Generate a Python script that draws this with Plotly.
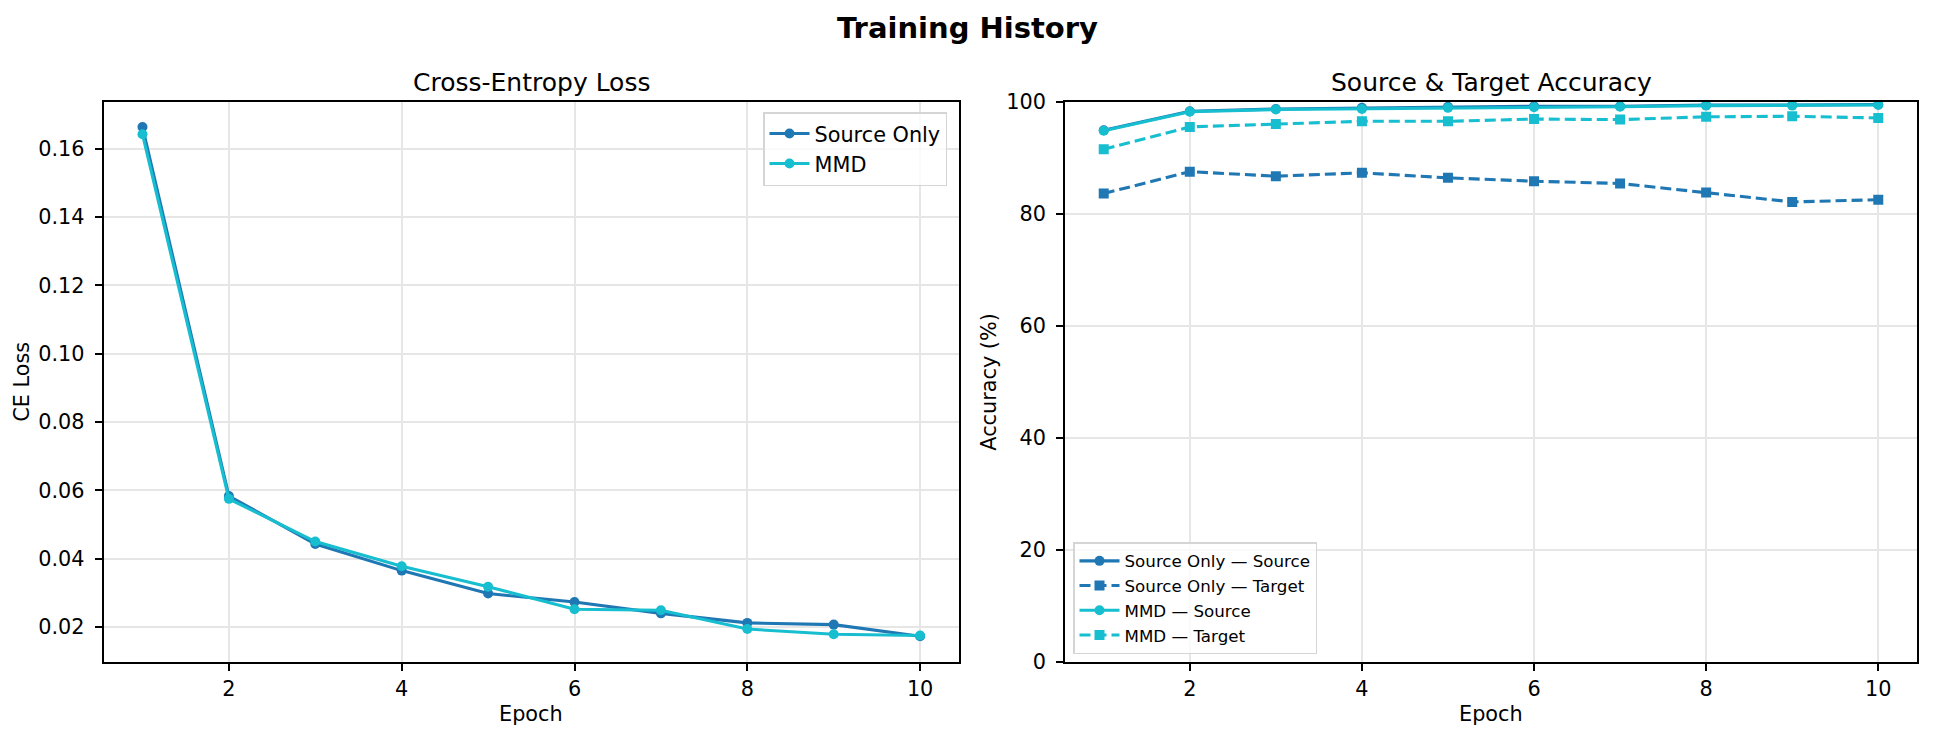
import plotly.graph_objects as go

epochs = [1, 2, 3, 4, 5, 6, 7, 8, 9, 10]

loss_source_only = [0.1663, 0.0583, 0.0443, 0.0365, 0.0298, 0.0273, 0.0240, 0.0212, 0.0207, 0.0173]
loss_mmd = [0.1642, 0.0575, 0.0450, 0.0378, 0.0318, 0.0252, 0.0249, 0.0194, 0.0179, 0.0175]

acc_so_source = [94.9, 98.3, 98.7, 98.9, 99.1, 99.2, 99.2, 99.4, 99.4, 99.5]
acc_so_target = [83.6, 87.5, 86.7, 87.3, 86.4, 85.8, 85.4, 83.8, 82.1, 82.5]
acc_mmd_source = [94.8, 98.2, 98.6, 98.7, 98.9, 99.0, 99.1, 99.3, 99.3, 99.4]
acc_mmd_target = [91.5, 95.5, 96.0, 96.5, 96.5, 96.9, 96.8, 97.3, 97.4, 97.1]

loss_ticks = [0.02, 0.04, 0.06, 0.08, 0.10, 0.12, 0.14, 0.16]
acc_ticks = [0, 20, 40, 60, 80, 100]
epoch_ticks = [2, 4, 6, 8, 10]

C_SO = "#1f77b4"
C_MMD = "#17becf"
FONT = "DejaVu Sans"
W, H = 1934, 740
LW = 3.1
MS = 10
DASH = "11px,5px"

def px_x(v):
    return v / W

def px_y(v):
    return 1 - v / H

fig = go.Figure()

# Left: loss
fig.add_trace(go.Scatter(x=epochs, y=loss_source_only, name="Source Only", mode="lines+markers",
                         line=dict(color=C_SO, width=LW), marker=dict(symbol="circle", size=MS, color=C_SO),
                         xaxis="x", yaxis="y", legend="legend"))
fig.add_trace(go.Scatter(x=epochs, y=loss_mmd, name="MMD", mode="lines+markers",
                         line=dict(color=C_MMD, width=LW), marker=dict(symbol="circle", size=MS, color=C_MMD),
                         xaxis="x", yaxis="y", legend="legend"))

# Right: accuracy
fig.add_trace(go.Scatter(x=epochs, y=acc_so_source, name="Source Only — Source", mode="lines+markers",
                         line=dict(color=C_SO, width=LW), marker=dict(symbol="circle", size=MS, color=C_SO),
                         xaxis="x2", yaxis="y2", legend="legend2"))
fig.add_trace(go.Scatter(x=epochs, y=acc_so_target, name="Source Only — Target", mode="lines+markers",
                         line=dict(color=C_SO, width=LW, dash=DASH), marker=dict(symbol="square", size=MS, color=C_SO),
                         xaxis="x2", yaxis="y2", legend="legend2"))
fig.add_trace(go.Scatter(x=epochs, y=acc_mmd_source, name="MMD — Source", mode="lines+markers",
                         line=dict(color=C_MMD, width=LW), marker=dict(symbol="circle", size=MS, color=C_MMD),
                         xaxis="x2", yaxis="y2", legend="legend2"))
fig.add_trace(go.Scatter(x=epochs, y=acc_mmd_target, name="MMD — Target", mode="lines+markers",
                         line=dict(color=C_MMD, width=LW, dash=DASH), marker=dict(symbol="square", size=MS, color=C_MMD),
                         xaxis="x2", yaxis="y2", legend="legend2"))

ydom = [px_y(661.7), px_y(101.7)]
common_axis = dict(showline=True, linecolor="black", linewidth=1.7, mirror=True,
                   ticks="outside", ticklen=7, tickwidth=1.7, tickcolor="black",
                   showgrid=True, gridcolor="#e6e6e6", gridwidth=1.6, zeroline=False,
                   tickfont=dict(family=FONT, size=20.8, color="black"), automargin=False)

fig.update_layout(
    width=W, height=H,
    margin=dict(l=0, r=0, t=0, b=0),
    paper_bgcolor="white", plot_bgcolor="white",
    font=dict(family=FONT, color="black"),
    xaxis=dict(domain=[px_x(103.6), px_x(959)], range=[0.55, 10.45], tickvals=epoch_ticks, anchor="y", **common_axis),
    yaxis=dict(domain=ydom, range=[0.00985, 0.1737], tickvals=loss_ticks, tickformat=".2f", anchor="x",
               ticklabelstandoff=6, **common_axis),
    xaxis2=dict(domain=[px_x(1065), px_x(1917)], range=[0.55, 10.45], tickvals=epoch_ticks, anchor="y2", **common_axis),
    yaxis2=dict(domain=ydom, range=[0, 100], tickvals=acc_ticks, anchor="x2",
                ticklabelstandoff=6, **common_axis),
    legend=dict(x=px_x(947), y=px_y(112), xanchor="right", yanchor="top",
                bgcolor="rgba(255,255,255,0.8)", bordercolor="#d5d5d5", borderwidth=1.5,
                font=dict(family=FONT, size=20.8, color="black"), itemwidth=40, tracegroupgap=0),
    legend2=dict(x=px_x(1073), y=px_y(654), xanchor="left", yanchor="bottom",
                 bgcolor="rgba(255,255,255,0.8)", bordercolor="#d5d5d5", borderwidth=1.5,
                 font=dict(family=FONT, size=16.7, color="black"), itemwidth=40, tracegroupgap=0),
    showlegend=True,
)

anns = [
    dict(text="<b>Training History</b>", x=0.5, y=px_y(28), font=dict(size=29)),
    dict(text="Cross-Entropy Loss", x=px_x(531.3), y=px_y(83), font=dict(size=25)),
    dict(text="Source & Target Accuracy", x=px_x(1491), y=px_y(83), font=dict(size=25)),
    dict(text="Epoch", x=px_x(531.3), y=px_y(714), font=dict(size=20.8)),
    dict(text="Epoch", x=px_x(1491), y=px_y(714), font=dict(size=20.8)),
    dict(text="CE Loss", x=px_x(22), y=px_y(381.7), font=dict(size=20.8), textangle=-90),
    dict(text="Accuracy (%)", x=px_x(989), y=px_y(381.7), font=dict(size=20.8), textangle=-90),
]
for a in anns:
    a.update(xref="paper", yref="paper", xanchor="center", yanchor="middle", showarrow=False)
    a["font"].update(family=FONT, color="black")
fig.update_layout(annotations=anns)

fig.write_html("out.html")
